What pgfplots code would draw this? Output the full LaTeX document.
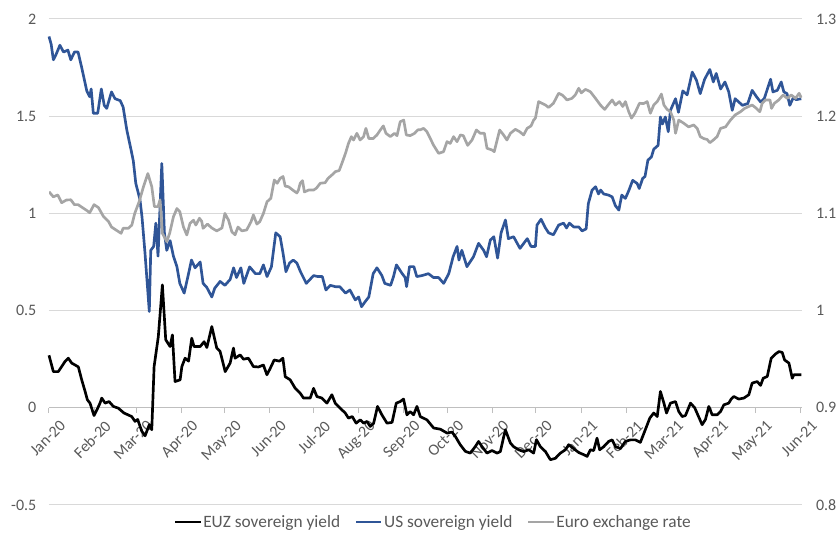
\documentclass[border=0pt]{standalone}
\usepackage{fontspec}
\setmainfont{Carlito}
\usepackage{pgfplots}
\pgfplotsset{compat=1.18}
\usetikzlibrary{calc}

\definecolor{usblue}{HTML}{2F5597}
\definecolor{eurgray}{HTML}{A5A5A5}
\definecolor{gridgray}{HTML}{D9D9D9}
\definecolor{axgray}{HTML}{BFBFBF}
\definecolor{txtgray}{HTML}{595959}

\pgfplotsset{
  every axis/.append style={
    scale only axis, width=564.75pt, height=364.5pt,
    xmin=0, xmax=518,
    font=\fontsize{12}{14}\selectfont,
    tick label style={text=txtgray},
    /pgf/number format/assume math mode=true,
  },
}

\begin{document}
\begin{tikzpicture}
% days since 1 Jan 2020
\begin{axis}[
  axis x line*=middle, axis y line*=left,
  hide obscured x ticks=false,
  y axis line style={draw=none}, ytick style={draw=none},
  x axis line style={draw=axgray, line width=0.75pt},
  xtick style={draw=axgray, line width=0.75pt},
  xtick align=outside, major tick length=4pt,
  ymin=-0.5, ymax=2, ytick={-0.5,0,0.5,1,1.5,2},
  ymajorgrids, grid style={draw=gridgray, line width=0.75pt},
  xtick={0,31,60,91,121,152,182,213,244,274,305,335,366,397,425,456,486,517},
  xticklabels={Jan-20,Feb-20,Mar-20,Apr-20,May-20,Jun-20,Jul-20,Aug-20,Sep-20,Oct-20,Nov-20,Dec-20,Jan-21,Feb-21,Mar-21,Apr-21,May-21,Jun-21},
  xticklabel style={rotate=45, anchor=north east, inner sep=0pt, xshift=2pt, yshift=-8.5pt},
  yticklabel style={anchor=east, xshift=-6pt},
  clip=false,
]
\coordinate (sw) at (rel axis cs:0,0);
\coordinate (ne) at (rel axis cs:1,1);
% EUZ sovereign yield
\addplot[black, line width=2pt, line join=round] table {
0 0.27
3 0.186
6.4 0.186
8.7 0.212
11 0.238
13.3 0.255
15.6 0.23
18 0.22
20.2 0.21
22.5 0.144
25 0.08
26.4 0.041
28.2 0.024
31 -0.04
33 -0.01
35.1 0.024
36.3 0.05
38.6 0.024
41.3 0.032
44.3 0.007
47.7 -0.002
51.6 -0.027
54 -0.035
56.9 -0.045
59.2 -0.07
61 -0.06
63.8 -0.12
66.1 -0.144
69 -0.087
70.7 -0.113
72.3 0.212
75.2 0.366
78 0.632
80.3 0.35
83.3 0.315
84.9 0.375
86.7 0.135
90.2 0.144
91.4 0.212
93.6 0.255
96 0.24
98.2 0.358
99.8 0.315
104 0.315
106.7 0.34
108.6 0.31
112 0.418
115.4 0.307
117.7 0.29
121.2 0.186
124.6 0.23
126.9 0.307
128 0.255
131.5 0.272
133.8 0.25
137.2 0.255
140.6 0.212
144.1 0.21
147.5 0.22
149.9 0.17
152 0.2
154.9 0.246
158.5 0.24
160.9 0.255
162.5 0.16
165.9 0.144
169.4 0.1
172.8 0.075
175.1 0.05
179.7 0.05
182 0.1
184.3 0.058
187.7 0.05
191.2 0.024
194.6 0.067
196.9 0.024
200.3 -0.002
203.8 -0.027
206 -0.053
208.6 -0.045
211.3 -0.079
214.1 -0.062
216.4 -0.079
218.7 -0.07
221 -0.096
223.3 -0.08
226 0.007
229 -0.036
232.5 -0.079
236 -0.075
238.9 0.024
241.6 0.032
243.9 0.045
246.2 -0.036
248.5 -0.02
250.8 -0.036
253.1 0.007
255.4 -0.045
260 -0.062
264.6 -0.104
269.2 -0.11
273.8 -0.13
277.2 -0.125
279.5 -0.147
282.9 -0.19
286.4 -0.224
289.8 -0.233
293.3 -0.199
295.5 -0.173
297.9 -0.2
301.3 -0.233
304.8 -0.22
308.2 -0.233
310.5 -0.225
313.9 -0.113
317.4 -0.181
319.6 -0.2
323.1 -0.216
326.5 -0.225
330 -0.216
333.4 -0.233
335.3 -0.164
338 -0.2
341.5 -0.225
344.9 -0.267
348.3 -0.26
351.8 -0.233
355.2 -0.216
357.5 -0.19
360.9 -0.21
364.4 -0.23
367.8 -0.241
370.2 -0.25
372.4 -0.216
374.7 -0.22
377 -0.156
378.8 -0.216
381.6 -0.2
385 -0.173
387.4 -0.165
389.6 -0.199
393.1 -0.21
396.5 -0.173
400 -0.165
403.4 -0.165
406.8 -0.178
410.2 -0.113
413.3 -0.053
416 -0.027
418.4 -0.045
420.6 0.084
423 0.024
424.8 -0.027
427.5 0.024
431 0.032
433.2 -0.019
435.6 -0.045
437.8 -0.04
441.3 0.024
444.2 0
446.3 -0.036
449.3 -0.087
451.6 -0.06
453.9 0.007
456.2 -0.036
459.6 -0.036
461.9 -0.02
464.2 0.015
467.6 0.024
469.3 0.045
471.1 0.058
474.5 0.045
478 0.05
481.4 0.067
483.7 0.127
487.2 0.135
489.5 0.115
491.3 0.152
494.1 0.161
496.8 0.255
499.8 0.277
502.1 0.289
504.4 0.285
506 0.246
509 0.23
511.3 0.152
512.4 0.17
517.5 0.17
};
% US sovereign yield
\addplot[usblue, line width=2pt, line join=round] table {
0 1.91
1.5 1.87
3 1.79
5 1.82
7.5 1.865
10 1.83
13 1.84
15 1.79
17.5 1.83
20 1.83
22.5 1.75
26 1.63
28 1.60
29 1.64
30.5 1.515
33.5 1.515
36 1.64
38 1.556
39.7 1.54
43 1.625
45.4 1.59
49 1.58
51 1.547
53.5 1.43
56.5 1.325
58 1.27
59.7 1.155
62.6 1.07
64 0.98
66 0.80
69 0.495
70 0.81
72 0.83
73.5 0.95
75 0.78
77.6 1.257
79.4 0.90
81 0.81
83.3 0.86
85.6 0.78
88 0.726
90 0.64
93 0.59
96 0.69
98 0.76
100.5 0.72
104 0.75
106 0.64
108.5 0.62
112 0.57
114 0.615
117.7 0.65
121 0.63
124.6 0.66
127 0.72
129 0.67
132 0.72
134 0.64
138 0.725
142 0.69
145 0.69
147.5 0.735
150 0.675
153 0.725
156 0.90
159 0.88
161 0.795
163 0.70
165.5 0.745
168 0.76
170.5 0.745
173 0.70
177 0.64
182 0.68
185 0.675
188 0.675
190.5 0.606
193.5 0.63
197 0.623
200 0.623
204 0.59
207 0.606
210.7 0.555
213 0.57
215 0.52
217.5 0.546
220 0.57
223 0.69
225.6 0.72
229 0.68
231 0.64
235 0.63
237 0.675
239 0.735
243 0.69
245 0.67
246 0.623
248 0.726
251 0.726
253 0.675
256.5 0.68
261 0.69
264.5 0.67
268 0.67
271.5 0.64
275 0.69
278 0.777
280.7 0.83
282 0.76
284 0.81
287.5 0.726
292 0.777
295.5 0.846
299 0.81
301 0.777
303.6 0.863
306 0.88
308.6 0.77
311 0.90
314 0.966
316 0.87
319.6 0.88
324 0.82
329 0.87
331.6 0.83
334.6 0.83
335.7 0.94
338.5 0.97
341.5 0.925
343.7 0.90
347 0.89
350.6 0.94
354 0.95
356 0.925
358 0.95
361 0.93
364.5 0.93
366.7 0.91
369.5 0.92
371 1.05
373.6 1.12
376 1.137
378 1.10
379.5 1.12
381.6 1.10
385 1.094
387.4 1.085
389.6 1.04
392 1.017
394 1.094
396.5 1.077
399 1.12
401.5 1.17
404.6 1.154
406 1.128
408.4 1.18
410 1.19
412 1.274
414.4 1.29
416 1.33
419 1.35
420.6 1.496
422 1.46
424 1.496
426 1.42
427.5 1.53
431 1.59
433 1.52
436 1.63
439 1.61
442.5 1.727
445.4 1.685
448 1.616
451 1.69
454.6 1.74
457 1.676
459 1.72
462 1.64
465 1.676
467.6 1.625
470 1.53
472 1.59
474.5 1.573
477 1.556
480.7 1.565
483.7 1.633
486.7 1.60
489.5 1.573
492 1.59
496.4 1.69
498 1.625
501 1.633
503.7 1.676
505.5 1.625
507.7 1.616
509.6 1.556
512 1.595
514 1.585
517.5 1.59
};
\end{axis}

\begin{axis}[
  axis x line=none, axis y line*=right,
  y axis line style={draw=none}, ytick style={draw=none},
  ymin=0.8, ymax=1.3, ytick={0.8,0.9,1,1.1,1.2,1.3},
  yticklabel style={anchor=west, xshift=7pt, /pgf/number format/fixed},
  legend style={at={(0.51,-0.035)}, anchor=center, draw=none, fill=none,
    legend columns=3, text=txtgray, font=\fontsize{13}{15}\selectfont,
    nodes={inner xsep=1pt},
    /tikz/every even column/.append style={column sep=10pt}},
  legend image code/.code={\draw[#1, line width=2pt] (0pt,0pt) -- (19pt,0pt);},
]
\addlegendimage{black}
\addlegendentry{EUZ sovereign yield}
\addlegendimage{usblue}
\addlegendentry{US sovereign yield}
% Euro exchange rate (right axis)
\addplot[eurgray, line width=2pt, line join=round] table {
0 1.1223
3 1.117
6 1.119
8.7 1.111
12 1.1138
15 1.114
17.5 1.109
20 1.109
23 1.106
26 1.103
28 1.1007
31 1.109
34 1.106
37.4 1.097
41 1.0915
43 1.086
45.4 1.0836
49.6 1.0795
51 1.0847
54.6 1.0847
57 1.088
59 1.100
62 1.112
65 1.1275
68 1.141
70.7 1.1275
72.5 1.107
75 1.107
76.4 1.114
78 1.0795
81 1.071
83 1.0795
85.6 1.0966
88 1.105
90 1.1017
92.5 1.086
94.8 1.0778
97 1.0898
99.4 1.093
101 1.088
103.5 1.095
105 1.092
106 1.0847
109 1.089
112 1.085
115.4 1.082
119 1.085
121 1.100
123.5 1.093
125.8 1.081
128 1.078
130 1.086
132.7 1.082
136 1.083
139 1.0915
140.6 1.0984
143 1.089
145 1.0915
147.5 1.100
150 1.112
152.6 1.1155
155 1.1344
157 1.131
159 1.136
161 1.138
162.5 1.128
164.7 1.1275
167.7 1.124
170.5 1.121
171.6 1.124
172.8 1.131
174.4 1.1337
175.7 1.122
178.5 1.124
182 1.124
184 1.126
186.6 1.131
190 1.1316
191.9 1.136
194.6 1.1395
197 1.143
199.6 1.144
201.5 1.1515
204 1.162
206 1.172
208 1.179
209.5 1.1755
211.8 1.1824
214 1.1755
216.4 1.179
218 1.1875
220 1.177
223 1.177
225.6 1.1807
227.9 1.1858
230 1.19
231.8 1.1824
234.8 1.179
237.7 1.1824
239.4 1.18
241.6 1.1943
244 1.196
245.8 1.1807
248.5 1.18
251.5 1.1824
253.8 1.186
255.4 1.186
257.7 1.1875
260 1.184
262.3 1.177
264.6 1.170
268 1.1618
271.4 1.1635
273.8 1.1738
276 1.172
278.3 1.179
280.7 1.1738
283 1.1807
285 1.18
288 1.170
291 1.1755
294 1.1858
296.7 1.1824
299.5 1.1824
301.3 1.167
304.8 1.1652
306.3 1.1635
307.7 1.172
310 1.1858
312.7 1.1807
315 1.1755
317.4 1.1824
320.8 1.1865
323.8 1.184
326.5 1.1807
328.9 1.1875
331.6 1.19
333.4 1.196
334.6 1.198
336.8 1.215
339 1.2133
341.5 1.2115
343.7 1.209
347 1.2133
350.6 1.2236
353 1.2218
356.4 1.2167
359.8 1.2184
362 1.2218
364.4 1.2287
366.2 1.224
369 1.2276
372.4 1.2252
375.9 1.2184
379.3 1.2115
382.3 1.207
384.6 1.2115
387.4 1.2167
389.6 1.2115
392.4 1.215
394.7 1.21
396.5 1.215
398.8 1.2046
400.7 1.198
403 1.203
406.2 1.2133
409 1.213
411.5 1.215
413.7 1.203
416 1.2115
418.4 1.215
421.3 1.2228
423 1.2115
425.2 1.207
427.5 1.2046
429.8 1.196
431 1.1824
433.2 1.196
436.7 1.1927
440 1.189
443.5 1.191
445.9 1.1875
448 1.179
450.4 1.177
452.8 1.176
454.6 1.1727
457 1.1755
459.6 1.179
462 1.1875
465.4 1.189
468.8 1.196
472 1.2013
475.7 1.2046
478.5 1.208
481.4 1.21
483.7 1.2115
486.7 1.208
489 1.2046
490.6 1.2133
493 1.2167
496 1.2167
497 1.208
499 1.2133
502 1.2167
505 1.2218
507.8 1.2184
510.6 1.2218
513.6 1.2184
516 1.2236
517.5 1.219
};
\addlegendentry{Euro exchange rate}
\end{axis}
\pgfresetboundingbox
\useasboundingbox ($(sw)+(-36.75pt,-27pt)$) rectangle ($(ne)+(27.75pt,14.25pt)$);
\end{tikzpicture}
\end{document}
